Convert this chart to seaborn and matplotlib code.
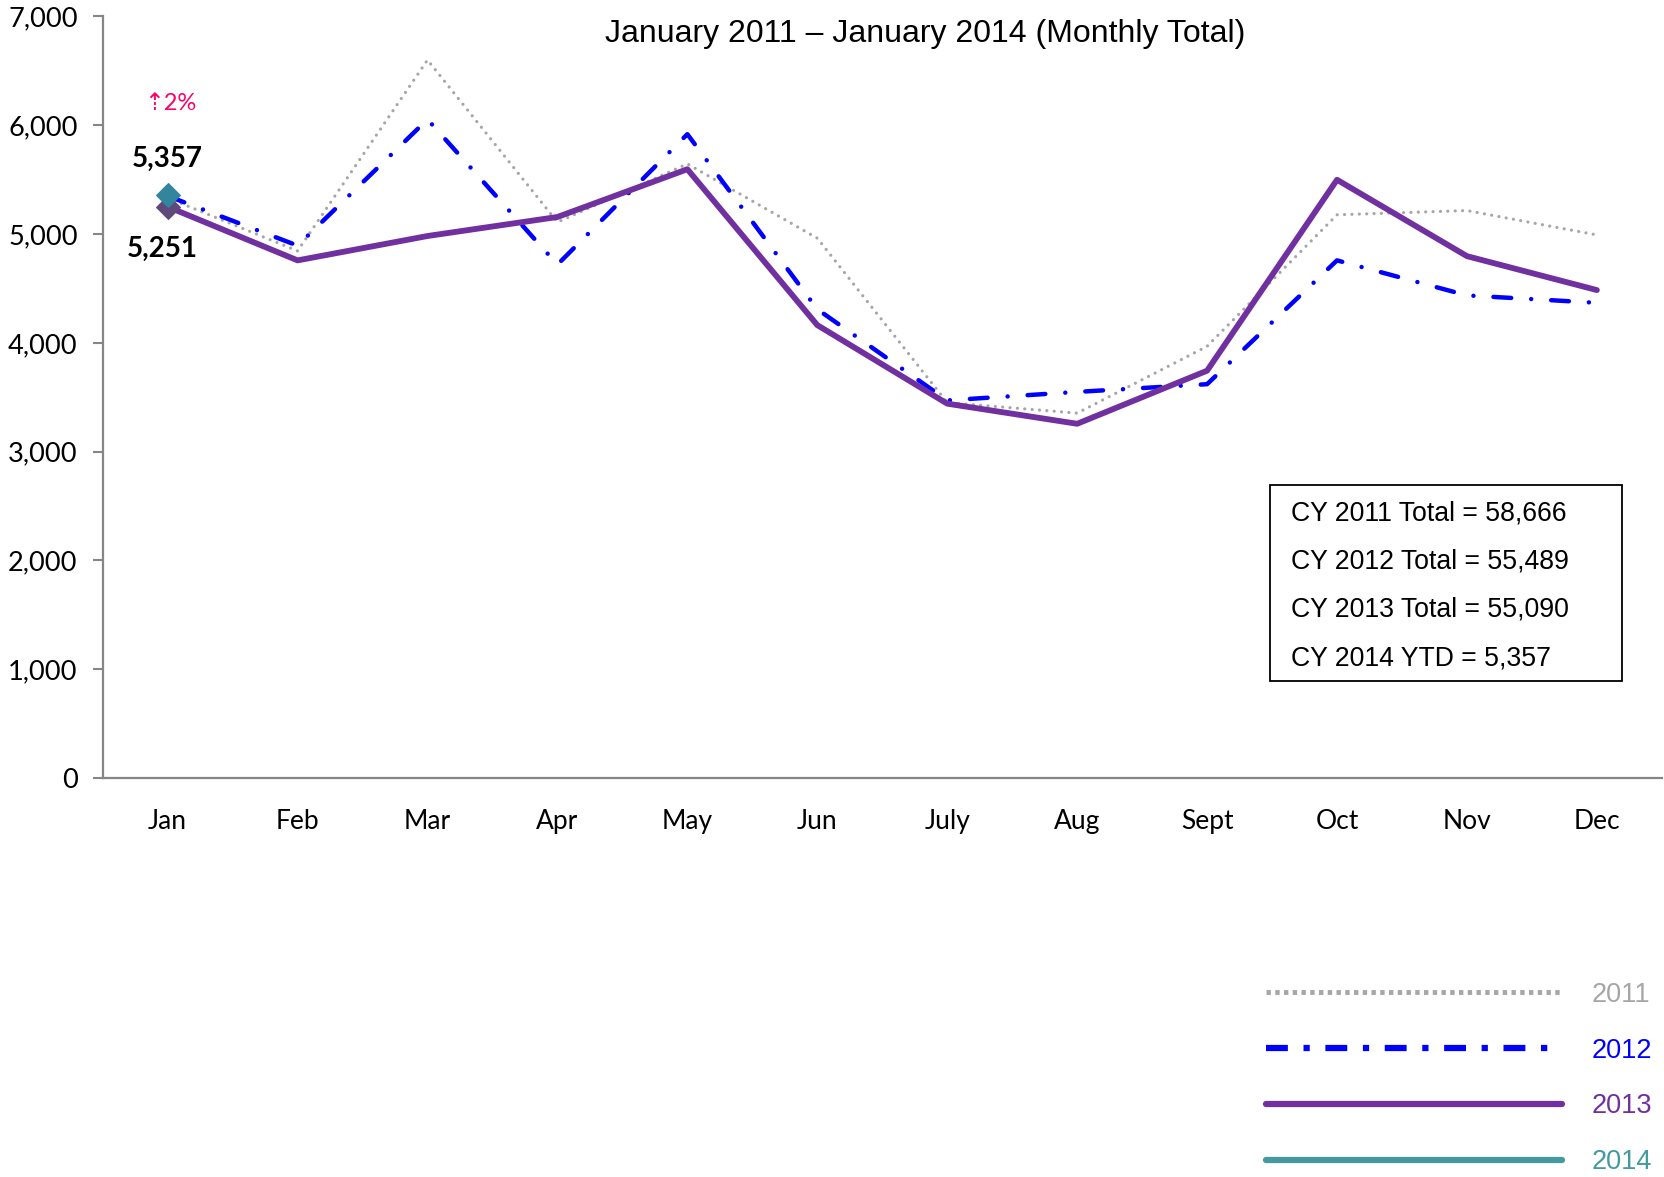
import numpy as np
import pandas as pd
import matplotlib
matplotlib.use("Agg")
import matplotlib.pyplot as plt
from matplotlib.lines import Line2D
from matplotlib.patches import Rectangle
from matplotlib.ticker import FuncFormatter
import seaborn as sns

# ---------------- DATA ----------------
months = ["Jan", "Feb", "Mar", "Apr", "May", "Jun",
          "July", "Aug", "Sept", "Oct", "Nov", "Dec"]
y2011 = [5333, 4845, 6600, 5109, 5645, 4962, 3451, 3354, 3968, 5177, 5216, 4992]
y2012 = [5350, 4894, 6054, 4719, 5918, 4309, 3471, 3549, 3620, 4758, 4436, 4368]
y2013 = [5251, 4758, 4982, 5157, 5596, 4163, 3441, 3256, 3744, 5499, 4797, 4485]
y2014 = [5357]
totals = ["CY 2011 Total = 58,666", "CY 2012 Total = 55,489",
          "CY 2013 Total = 55,090", "CY 2014 YTD = 5,357"]
years = ["2011", "2012", "2013", "2014"]

c11, c12, c13, c14 = "#A6A6A6", "#0000FF", "#7030A0", "#449A9E"

sns.set_style("white")
plt.rcParams["font.family"] = ["Lato", "DejaVu Sans"]
plt.rcParams["text.color"] = "black"
plt.rcParams["xtick.labelcolor"] = "black"
plt.rcParams["ytick.labelcolor"] = "black"

fig = plt.figure(figsize=(16.64, 11.77), dpi=100)
ax = fig.add_axes([0.0617, 0.339, 0.937, 0.647])

x = np.arange(len(months))

# ---------------- LINES ----------------
sns.lineplot(x=x, y=y2011, ax=ax, color=c11, lw=2.3, sort=False)
ax.lines[-1].set_dashes((0.01, 2.3))
ax.lines[-1].set_dash_capstyle("round")

sns.lineplot(x=x, y=y2012, ax=ax, color=c12, lw=3.2, sort=False)
ax.lines[-1].set_dashes((4.0, 4.5, 0.01, 4.5))
ax.lines[-1].set_dash_capstyle("round")

sns.lineplot(x=x, y=y2013, ax=ax, color=c13, lw=4.2, sort=False,
             marker="D", markersize=12, markevery=[0],
             markerfacecolor="#5F497A", markeredgecolor="#5F497A")

sns.lineplot(x=x[:len(y2014)], y=y2014, ax=ax, color=c14, lw=3.5,
             marker="D", markersize=12, markerfacecolor="#31859C",
             markeredgecolor="#31859C")

# ---------------- AXES ----------------
ax.set_xlim(-0.5, 11.5)
ax.set_ylim(0, 7000)
ax.set_yticks(range(0, 7001, 1000))
ax.yaxis.set_major_formatter(FuncFormatter(lambda v, p: f"{int(v):,}"))
ax.set_xticks(x)
ax.set_xticklabels(months)
ax.set_xticks(np.arange(-0.5, 12), minor=True)
ax.tick_params(axis="x", which="major", length=0, pad=22, labelsize=19)
ax.tick_params(axis="x", which="minor", length=8, width=1.5, color="#868686",
               direction="out")
ax.tick_params(axis="y", length=7, width=1.5, color="#868686", pad=11,
               labelsize=19.6, left=True)
for s in ["top", "right"]:
    ax.spines[s].set_visible(False)
for s in ["left", "bottom"]:
    ax.spines[s].set_color("#868686")
    ax.spines[s].set_linewidth(1.6)
ax.set_xlabel("")
ax.set_ylabel("")

# ---------------- LABELS ----------------
ax.annotate("5,357", (0, y2014[0]), xytext=(0, 26), textcoords="offset points",
            ha="center", va="center", fontsize=20, fontweight="bold")
ax.annotate("5,251", (0, y2013[0]), xytext=(-4, -30), textcoords="offset points",
            ha="center", va="center", fontsize=20, fontweight="bold")
ax.annotate("\u21e12%", (0, y2014[0]), xytext=(2, 66), textcoords="offset points",
            ha="center", va="center", fontsize=17, color="#FF0066")

fig.text(925 / 1664, 1 - 34 / 1177, "January 2011 \u2013 January 2014 (Monthly Total)",
         ha="center", va="center", fontsize=23, family="Liberation Sans")

# totals box
ax.add_patch(Rectangle((0.7486, 0.127), 0.2258, 0.258, transform=ax.transAxes,
                       fill=False, ec="black", lw=1.3, clip_on=False))
ax.text(0.762, 0.2525, "\n".join(totals), transform=ax.transAxes,
        ha="left", va="center", fontsize=19.2, family="Liberation Sans",
        linespacing=2.12)

# ---------------- LEGEND ----------------
handles = [
    Line2D([], [], color=c11, lw=3.5, linestyle=(0, (0.9, 0.9))),
    Line2D([], [], color=c12, lw=4.5, linestyle=(0, (3.5, 2.5, 1, 2.5))),
    Line2D([], [], color=c13, lw=4.5),
    Line2D([], [], color=c14, lw=4.5),
]
leg = fig.legend(handles, years, loc="lower right", bbox_to_anchor=(0.996, -0.003),
                 frameon=False, handlelength=10.9, handletextpad=1.1,
                 labelspacing=1.1, borderpad=0.2, borderaxespad=0,
                 prop={"family": "Liberation Sans", "size": 19.5})
for t, c in zip(leg.get_texts(), [c11, c12, c13, c14]):
    t.set_color(c)

fig.savefig("out.png", dpi=100)
